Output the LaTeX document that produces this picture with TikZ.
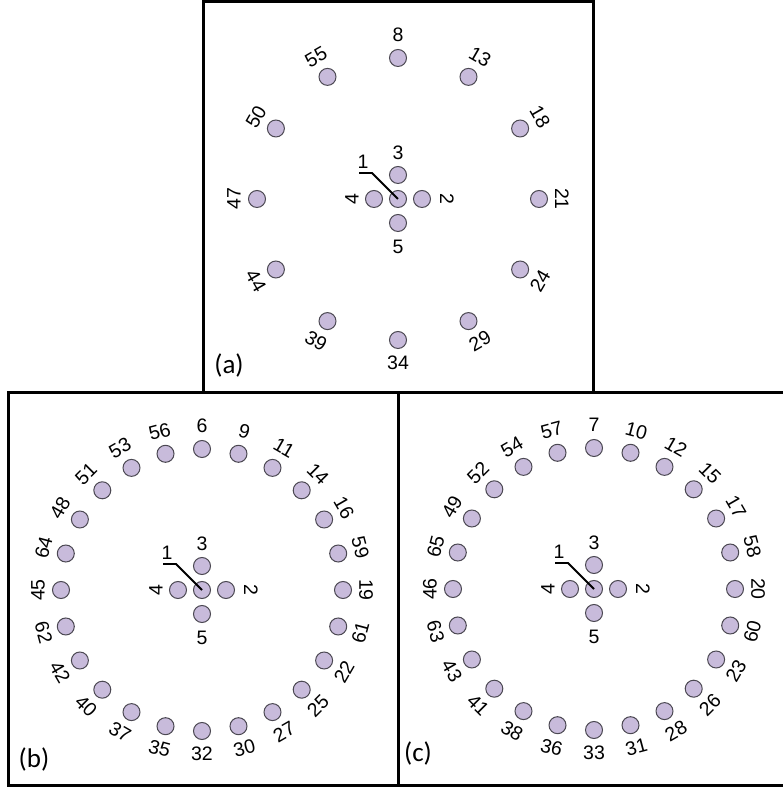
\documentclass[tikz,border=0pt]{standalone}
\usepackage{fontspec}
\setmainfont{Liberation Sans}
\newfontfamily\carl{Carlito}
\definecolor{dotfill}{RGB}{200,187,219}
\definecolor{dotline}{RGB}{75,72,82}
\tikzset{
  dot/.style={circle,draw=dotline,fill=dotfill,line width=1pt,minimum size=17pt,inner sep=0pt},
  num/.style={inner sep=0pt,font=\fontsize{19.5}{19.5}\selectfont},
  panel/.style={draw=black,line width=3pt},
  plabel/.style={inner sep=0pt,font=\carl\fontsize{27}{27}\selectfont},
  lead/.style={line width=1.8pt,black}
}
\newcommand{\centralset}[1]{%
  \node[dot] (#11) at (c#1) {};
  \node[dot] (#12) at ([shift={(24,0)}]c#1) {};
  \node[dot] (#13) at ([shift={(0,24)}]c#1) {};
  \node[dot] (#14) at ([shift={(-24,0)}]c#1) {};
  \node[dot] (#15) at ([shift={(0,-24)}]c#1) {};
  \node[num,rotate=-90] (#1l2) at ([shift={(49,0)}]c#1) {2};
  \node[num] (#1l3) at ([shift={(0,46)}]c#1) {3};
  \node[num,rotate=90] (#1l4) at ([shift={(-46,0)}]c#1) {4};
  \node[num] (#1l5) at ([shift={(0,-48)}]c#1) {5};
  \coordinate (#1k) at ([shift={(-26,26)}]c#1);
  \coordinate (#1e) at ([shift={(-39,26)}]c#1);
  \draw[lead] (#11.center) -- (#1k) -- (#1e);
  \node[num] (#1l1) at ([shift={(-35,37)}]c#1) {1};
}
\newcommand{\ringset}[2]{%
  \foreach \n/\a in {#2} {
    \pgfmathsetmacro\rot{\a<0 ? \a+90 : \a-90}
    \node[dot] (#1\n) at ([shift={(\a:141)}]c#1) {};
    \node[num,rotate=\rot] (#1l\n) at ([shift={(\a:164)}]c#1) {\n};
  }
}
\begin{document}
\begin{tikzpicture}[x=1pt,y=1pt]
\useasboundingbox (0,0) rectangle (782,789);
\fill[white] (0,0) rectangle (782,789);
% panel frames
\draw[panel] (203,787) rectangle (593,396);
\draw[panel] (8,396) rectangle (398,3);
\draw[panel] (398,396) rectangle (790,3);
\coordinate (ca) at (398,590);
\coordinate (cb) at (202,199);
\coordinate (cc) at (594,200);
% panel (a)
\ringset{a}{8/90,13/60,18/30,21/0,24/-30,29/-60,34/-90,39/-120,44/-150,47/180,50/150,55/120}
\centralset{a}
\node[plabel] (pa) at (229,423) {(a)};
% panel (b)
\ringset{b}{6/90,9/75,11/60,14/45,16/30,59/15,19/0,61/-15,22/-30,25/-45,27/-60,30/-75,32/-90,35/-105,37/-120,40/-135,42/-150,62/-165,45/180,64/165,48/150,51/135,53/120,56/105}
\centralset{b}
\node[plabel] (pb) at (34,30) {(b)};
% panel (c)
\ringset{c}{7/90,10/75,12/60,15/45,17/30,58/15,20/0,60/-15,23/-30,26/-45,28/-60,31/-75,33/-90,36/-105,38/-120,41/-135,43/-150,63/-165,46/180,65/165,49/150,52/135,54/120,57/105}
\centralset{c}
\node[plabel] (pc) at (418,36) {(c)};
\end{tikzpicture}
\end{document}
